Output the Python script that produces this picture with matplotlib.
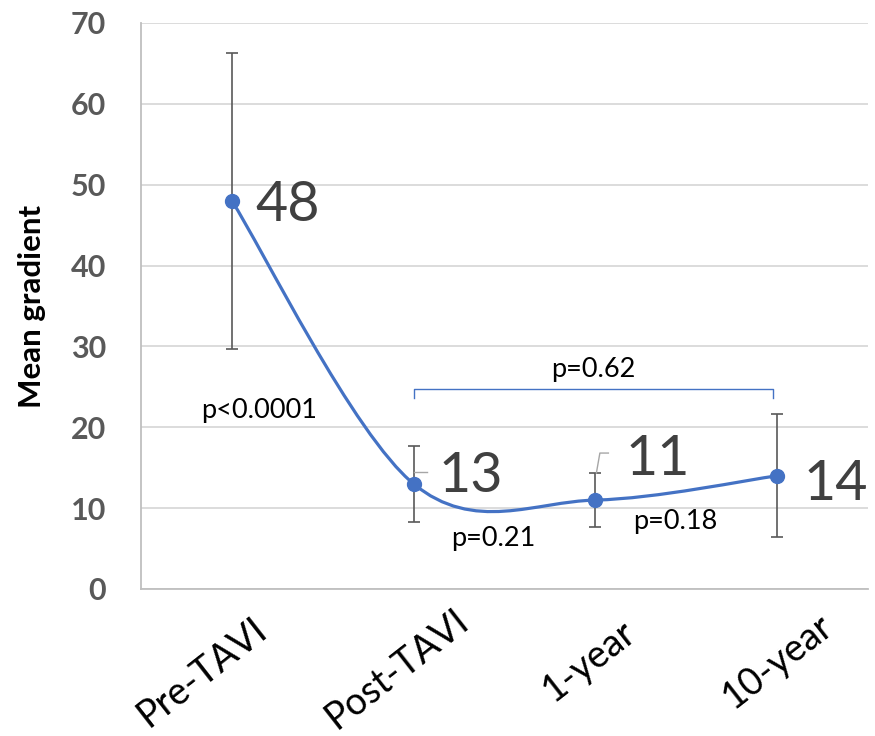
import numpy as np
import matplotlib
matplotlib.use("Agg")
import matplotlib.pyplot as plt
from matplotlib.path import Path
from matplotlib.patches import PathPatch
import matplotlib.transforms as mtransforms

# ---- data ----
categories = ["Pre-TAVI", "Post-TAVI", "1-year", "10-year"]
means = [48, 13, 11, 14]
err_upper = [18.3, 4.7, 3.3, 7.6]
err_lower = [18.3, 4.7, 3.3, 7.6]
y_ticks = [0, 10, 20, 30, 40, 50, 60, 70]
p_labels = ["p<0.0001", "p=0.21", "p=0.18", "p=0.62"]
p_x = [0.15, 1.44, 2.44, 1.99]
p_y = [22.1, 6.3, 8.3, 27.2]
bracket = dict(x0=1.0, x1=2.98, y=24.7, drop=1.1)

plt.rcParams['font.family'] = ['Lato', 'DejaVu Sans']

fig = plt.figure(figsize=(8.75, 7.36), dpi=100)
ax = fig.add_axes([141/875, 1-589/736, (868-141)/875, (589-23)/736])

blue = "#4472C4"
x = np.arange(len(categories))

# smoothed line (Excel-style Bezier smoothing)
pts = np.column_stack([x, means]).astype(float)
verts = [tuple(pts[0])]
codes = [Path.MOVETO]
n = len(pts)
for i in range(n - 1):
    p0 = pts[max(i - 1, 0)]
    p1 = pts[i]
    p2 = pts[i + 1]
    p3 = pts[min(i + 2, n - 1)]
    c1 = p1 + (p2 - p0) / 6.0
    c2 = p2 - (p3 - p1) / 6.0
    verts += [tuple(c1), tuple(c2), tuple(p2)]
    codes += [Path.CURVE4] * 3
ax.add_patch(PathPatch(Path(verts, codes), facecolor='none', edgecolor=blue,
                       lw=2.3, zorder=3, capstyle='round'))

ax.errorbar(x, means, yerr=[err_lower, err_upper], fmt='none', ecolor='#595959',
            elinewidth=1.2, capsize=4.5, capthick=1.2, zorder=2)
ax.plot(x, means, 'o', color=blue, ms=10, zorder=4)

# data labels
label_off = [(17, -14.5), (18, -5.8), (21.5, 18), (18.7, -17.5)]  # points (dx, baseline dy)
for xi, m, (dx, dy) in zip(x, means, label_off):
    ax.annotate(str(m), (xi, m), xytext=(dx, dy), textcoords='offset points',
                ha='left', va='baseline', fontsize=40, color='#404040', zorder=5)

# leader lines
gray = '#A6A6A6'
def leader(xi, yi, offs):
    disp = ax.transData.transform((xi, yi))
    pix = [(disp[0] + ox, disp[1] + oy) for ox, oy in offs]
    d = ax.transData.inverted().transform(pix)
    ax.plot(d[:, 0], d[:, 1], color=gray, lw=1.0, zorder=4)

# p-values
for t, px, py in zip(p_labels, p_x, p_y):
    ax.text(px, py, t, ha='center', va='center', fontsize=19.5, color='black', zorder=5)

# bracket
ax.plot([bracket['x0'], bracket['x0'], bracket['x1'], bracket['x1']],
        [bracket['y'] - bracket['drop'], bracket['y'], bracket['y'], bracket['y'] - bracket['drop']],
        color=blue, lw=1.0, zorder=3)

ax.set_xlim(-0.5, 3.5)
ax.set_ylim(0, 70)
ax.set_yticks(y_ticks)
ax.set_yticklabels([str(v) for v in y_ticks], fontsize=22, fontweight='bold', color='#595959')
ax.tick_params(axis='y', length=0, pad=25)
ax.grid(axis='y', color='#D9D9D9', lw=1.3)
ax.set_axisbelow(True)
for s in ['top', 'right']:
    ax.spines[s].set_visible(False)
for s in ['left', 'bottom']:
    ax.spines[s].set_color('#BFBFBF')
    ax.spines[s].set_linewidth(1.3)

ax.set_xticks(x)
ax.set_xticklabels(categories, fontsize=27, rotation=38, ha='center', va='center',
                   rotation_mode='anchor', color='black')
ax.tick_params(axis='x', length=0, pad=0)
xl_off = [(-30, -83), (-17, -80), (-6, -72), (1, -72)]
for lab, (dx, dy) in zip(ax.get_xticklabels(), xl_off):
    lab.set_transform(lab.get_transform() +
                      mtransforms.ScaledTranslation(dx / 100, dy / 100, fig.dpi_scale_trans))

ax.set_ylabel("Mean gradient", fontsize=22.5, fontweight='bold', color='black',
              va='center', ha='center')
ax.yaxis.set_label_coords(32/875, 0.5,
                          transform=mtransforms.blended_transform_factory(fig.transFigure, ax.transAxes))

fig.canvas.draw()
leader(1, 13, [(0, 12), (13, 12)])
leader(2, 11, [(1, 27), (4.5, 47), (13, 47)])

fig.savefig("out.png", dpi=100)
